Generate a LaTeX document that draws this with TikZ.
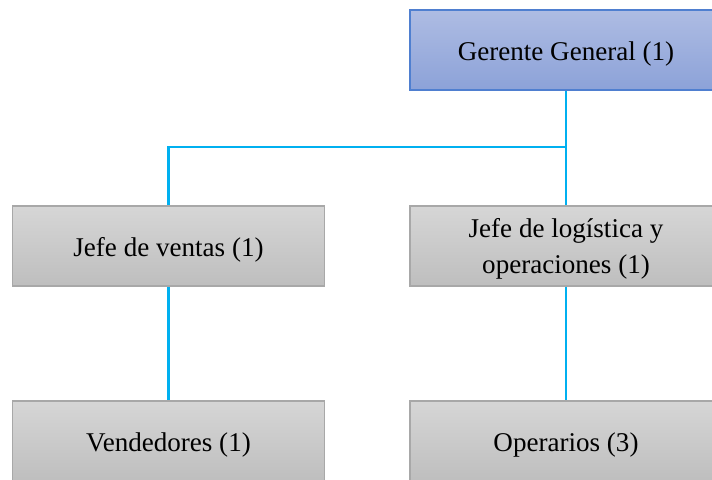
\documentclass[tikz,border=0pt]{standalone}
\usepackage{fontspec}
\setmainfont{Liberation Serif}
\usepackage{xcolor}
\usepackage{tikz}
\definecolor{linkc}{HTML}{00B0F0}
\definecolor{bluetop}{HTML}{AEBCE3}
\definecolor{bluebot}{HTML}{8CA2D8}
\definecolor{blueedge}{HTML}{4F7FD0}
\definecolor{graytop}{HTML}{D6D6D6}
\definecolor{graybot}{HTML}{BEBEBE}
\definecolor{grayedge}{HTML}{A8A8A8}
\tikzset{
  box/.style={draw=grayedge, line width=0.8pt, top color=graytop, bottom color=graybot,
    minimum width=234pt, minimum height=60pt, inner sep=0pt, align=center,
    font=\fontsize{20.3}{27}\selectfont, text height=20pt, text depth=4.4pt},
  headbox/.style={box, draw=blueedge, top color=bluetop, bottom color=bluebot},
  link/.style={draw=linkc, line width=1.6pt},
}
\begin{document}
\begin{tikzpicture}[x=0.75pt, y=-0.75pt]
  \useasboundingbox (0,0) rectangle (712,479);
  \coordinate (bus) at (566,147);
  \node[headbox] (ger) at (566,50) {Gerente General (1)};
  \node[box] (ventas) at (168.5,246) {Jefe de ventas (1)};
  \node[box, text height=45.5pt] (logis) at (566,246) {Jefe de logística y\\operaciones (1)};
  \node[box] (vend) at (168.5,441) {Vendedores (1)};
  \node[box] (oper) at (566,441) {Operarios (3)};
  \draw[link] (ger.south) -- (logis.north);
  \draw[link] (ventas.north) |- (bus);
  \draw[link] (ventas.south) -- (vend.north);
  \draw[link] (logis.south) -- (oper.north);
\end{tikzpicture}
\end{document}
